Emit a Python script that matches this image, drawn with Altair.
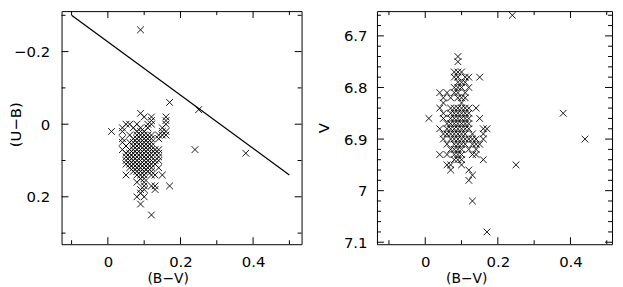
import altair as alt
import pandas as pd

# ---------------- data ----------------
# Left panel: (U-B) rows and the (B-V) values of the stars in each row
UB_ROWS = [-0.26, -0.06, -0.04, -0.03, -0.02, -0.01, 0.00, 0.01, 0.02, 0.03,
           0.04, 0.05, 0.06, 0.07, 0.08, 0.09, 0.10, 0.11, 0.12, 0.13,
           0.14, 0.15, 0.16, 0.17, 0.18, 0.19, 0.20, 0.22, 0.25]
BV_IN_UB_ROW = [
    [0.09],
    [0.17],
    [0.25],
    [0.09],
    [0.10, 0.12, 0.16],
    [0.12, 0.16],
    [0.05, 0.06, 0.08, 0.11, 0.12, 0.16],
    [0.04, 0.07, 0.09, 0.11, 0.15],
    [0.01, 0.04, 0.08, 0.09, 0.10, 0.15, 0.16],
    [0.06, 0.08, 0.09, 0.10, 0.11, 0.12, 0.14, 0.15, 0.16],
    [0.04, 0.07, 0.08, 0.09, 0.10, 0.11, 0.12, 0.14],
    [0.04, 0.06, 0.07, 0.08, 0.09, 0.10, 0.11, 0.12],
    [0.05, 0.07, 0.08, 0.09, 0.10, 0.11, 0.12],
    [0.04, 0.06, 0.07, 0.08, 0.09, 0.10, 0.11, 0.12, 0.13, 0.14, 0.24],
    [0.05, 0.06, 0.07, 0.08, 0.09, 0.10, 0.11, 0.12, 0.13, 0.14, 0.38],
    [0.05, 0.06, 0.07, 0.08, 0.09, 0.10, 0.11, 0.12, 0.14],
    [0.05, 0.06, 0.07, 0.08, 0.09, 0.10, 0.11, 0.12, 0.13, 0.14],
    [0.05, 0.06, 0.07, 0.08, 0.09, 0.10, 0.11, 0.12, 0.13],
    [0.06, 0.07, 0.08, 0.09, 0.10, 0.11, 0.12, 0.14],
    [0.07, 0.08, 0.09, 0.10, 0.11, 0.12],
    [0.05, 0.08, 0.09, 0.10, 0.12, 0.13, 0.15],
    [0.09, 0.10],
    [0.08, 0.10],
    [0.10, 0.12, 0.13, 0.17],
    [0.09, 0.10, 0.13],
    [0.09],
    [0.08, 0.10],
    [0.09],
    [0.12],
]

# Right panel: V rows and the (B-V) values of the stars in each row
V_ROWS = [6.66, 6.74, 6.75, 6.77, 6.78, 6.79, 6.80, 6.81, 6.82, 6.83,
          6.84, 6.85, 6.86, 6.87, 6.88, 6.89, 6.90, 6.91, 6.92, 6.93,
          6.94, 6.95, 6.96, 6.97, 6.98, 7.02, 7.08]
BV_IN_V_ROW = [
    [0.24],
    [0.09],
    [0.09],
    [0.08, 0.09, 0.10],
    [0.08, 0.09, 0.11, 0.12, 0.15],
    [0.09, 0.10, 0.11],
    [0.08, 0.09, 0.10, 0.12],
    [0.04, 0.06, 0.08, 0.09, 0.11],
    [0.05, 0.07, 0.09, 0.10, 0.11],
    [0.05, 0.10],
    [0.04, 0.07, 0.08, 0.09, 0.10, 0.11, 0.12, 0.14],
    [0.05, 0.07, 0.08, 0.09, 0.10, 0.11, 0.12, 0.38],
    [0.01, 0.05, 0.07, 0.08, 0.09, 0.10, 0.11, 0.12, 0.15],
    [0.06, 0.07, 0.08, 0.09, 0.10, 0.11, 0.12],
    [0.04, 0.06, 0.07, 0.08, 0.09, 0.10, 0.11, 0.12, 0.16, 0.17],
    [0.05, 0.06, 0.07, 0.08, 0.09, 0.10, 0.11, 0.13, 0.16],
    [0.05, 0.07, 0.08, 0.09, 0.10, 0.11, 0.12, 0.13, 0.14, 0.16, 0.44],
    [0.06, 0.08, 0.09, 0.10, 0.11, 0.13, 0.14, 0.15],
    [0.07, 0.08, 0.09, 0.10, 0.12, 0.14],
    [0.04, 0.06, 0.08, 0.09, 0.10, 0.13, 0.14],
    [0.08, 0.09, 0.10, 0.16],
    [0.06, 0.07, 0.10, 0.25],
    [0.07, 0.12],
    [0.13],
    [0.12],
    [0.13],
    [0.17],
]

# Straight line in the colour-colour diagram
LINE_BV = [-0.10, 0.50]
LINE_UB = [-0.30, 0.14]

# Tick values
BV_MAJOR = [0.0, 0.2, 0.4]
BV_MINOR = [-0.1, 0.1, 0.3, 0.5]
UB_MAJOR = [-0.2, 0.0, 0.2]
UB_MINOR = [-0.3, -0.1, 0.1, 0.3]
V_MAJOR = [6.7, 6.8, 6.9, 7.0, 7.1]
V_MINOR = [6.66, 6.68, 6.72, 6.74, 6.76, 6.78, 6.82, 6.84, 6.86, 6.88,
           6.92, 6.94, 6.96, 6.98, 7.02, 7.04, 7.06, 7.08]

# ---------------- styling ----------------
FONT = "DejaVu Sans"
FS = 15
XTITLE_FS = 14
CROSS = "M-1,-1L1,1M-1,1L1,-1"
MAJ, MIN = 7, 4
WL, WR, H = 242, 237, 235

left_df = pd.DataFrame([(bv, ub) for ub, row in zip(UB_ROWS, BV_IN_UB_ROW) for bv in row],
                       columns=["bv", "ub"])
right_df = pd.DataFrame([(bv, v) for v, row in zip(V_ROWS, BV_IN_V_ROW) for bv in row],
                        columns=["bv", "v"])
line_df = pd.DataFrame({"bv": LINE_BV, "ub": LINE_UB})


def axis(values, label_pad, **kw):
    return alt.Axis(values=values, format="~g", ticks=False, domain=False, grid=False,
                    labelPadding=label_pad, labelFlush=False, labelOverlap=False, **kw)


def panel(df, yfield, xdom, ydom, ytitle, yaxis_kw, xtitle_x, ymajor, yminor, width):
    xs = alt.Scale(domain=xdom, nice=False, zero=False)
    ys = alt.Scale(domain=ydom, nice=False, zero=False, reverse=True)
    X = lambda: alt.X("bv:Q", scale=xs, title="(B\u2212V)",
                      axis=axis(BV_MAJOR, 10, titleX=xtitle_x, titleY=28,
                                titleBaseline="top", titleAlign="center",
                                titleFontSize=XTITLE_FS))
    Y = lambda: alt.Y(f"{yfield}:Q", scale=ys, title=ytitle,
                      axis=axis(ymajor, **yaxis_kw))

    layers = [
        alt.Chart(df).mark_point(shape=CROSS, filled=False, size=46, strokeWidth=0.9,
                                 color="black", opacity=1).encode(x=X(), y=Y())
    ]

    def xticks(vals, ln):
        d = pd.DataFrame({"bv": vals})
        return [
            alt.Chart(d).mark_rule(color="black", strokeWidth=1).encode(
                x=X(), y=alt.value(H), y2=alt.value(H - ln)),
            alt.Chart(d).mark_rule(color="black", strokeWidth=1).encode(
                x=X(), y=alt.value(0), y2=alt.value(ln)),
        ]

    def yticks(vals, ln):
        d = pd.DataFrame({yfield: vals})
        return [
            alt.Chart(d).mark_rule(color="black", strokeWidth=1).encode(
                y=Y(), x=alt.value(0), x2=alt.value(ln)),
            alt.Chart(d).mark_rule(color="black", strokeWidth=1).encode(
                y=Y(), x=alt.value(width), x2=alt.value(width - ln)),
        ]

    layers += xticks(BV_MAJOR, MAJ) + xticks(BV_MINOR, MIN)
    layers += yticks(ymajor, MAJ) + yticks(yminor, MIN)
    return layers, X, Y


left_layers, LX, LY = panel(
    left_df, "ub", [-0.1276, 0.5336], [-0.3115, 0.3306], "(U\u2212B)",
    dict(label_pad=12, titleX=-38, titleY=114), 107, UB_MAJOR, UB_MINOR, WL)
left_layers.append(
    alt.Chart(line_df).mark_line(color="black", strokeWidth=1.3).encode(x=LX(), y=LY())
)
left = alt.layer(*left_layers).properties(width=WL, height=H)

right_layers, RX, RY = panel(
    right_df, "v", [-0.133, 0.5145], [6.652, 7.1038], "V",
    dict(label_pad=10, titlePadding=12), 90, V_MAJOR, V_MINOR, WR)
right = alt.layer(*right_layers).properties(width=WR, height=H)

chart = alt.hconcat(left, right, spacing=76, bounds="flush").properties(
    padding={"left": 0, "top": 0, "right": 2, "bottom": 0}
).configure_view(stroke="black", strokeWidth=1).configure_axis(
    labelFont=FONT, labelFontSize=FS, labelColor="black",
    titleFont=FONT, titleFontSize=FS, titleColor="black", titleFontWeight="normal"
)

chart.save("out.html", embed_options={"renderer": "svg", "actions": False})
